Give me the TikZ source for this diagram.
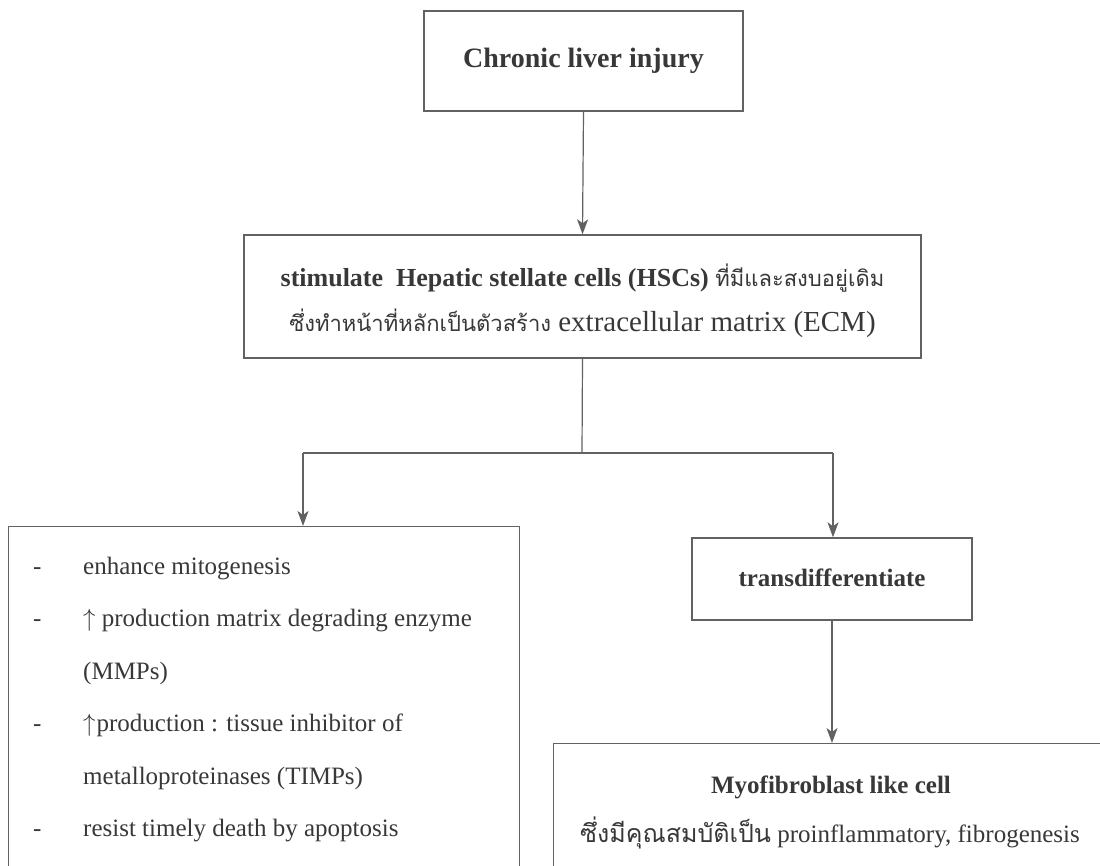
\documentclass[tikz,border=0pt]{standalone}
\usepackage{fontspec}
\setmainfont{Liberation Serif}
\newfontfamily\thai[Script=Thai]{Loma}
\usetikzlibrary{arrows.meta}
\definecolor{linec}{HTML}{626262}
\definecolor{textc}{HTML}{383838}
\newcommand{\upar}{$\uparrow$}
\begin{document}
\begin{tikzpicture}[x=1pt,y=-1pt,
  box/.style={draw=linec, line width=1.4pt, inner sep=0pt, text=textc},
  conn/.style={draw=linec, line width=1.2pt},
  arr/.style={conn, -{Stealth[length=15pt,width=11pt,inset=4pt]}},
  txt/.style={text=textc, inner sep=0pt},
  big/.style={font=\fontsize{28}{32}\selectfont\bfseries},
  mid/.style={font=\fontsize{25}{30}\selectfont},
]
\useasboundingbox (0,0) rectangle (1100,866);
\fill[white] (0,0) rectangle (1100,866);
\begin{scope}
\clip (0,0) rectangle (1100,866);
\node[box, big, minimum width=319pt, minimum height=100pt] (injury) at (583.5,61) {\raisebox{3pt}{Chronic liver injury}};
\node[box, minimum width=677pt, minimum height=123pt] (hsc) at (582.5,296.5) {};
\node[txt, font=\fontsize{26}{45}\selectfont] (hscl1) at (582.5,278)
  {\textbf{stimulate\ \ Hepatic stellate cells (HSCs)} {\thai\fontsize{22}{45}\selectfont ที่มีและสงบอยู่เดิม}};
\node[txt, font=\fontsize{29}{45}\selectfont] (hscl2) at (582.5,323)
  {{\thai\fontsize{22}{45}\selectfont ซึ่งทำหน้าที่หลักเป็นตัวสร้าง} extracellular matrix (ECM)};
\node[box, minimum width=511pt, minimum height=374pt, anchor=north west] (props) at (8,526) {};
\node[box, minimum width=280pt, minimum height=82pt, font=\fontsize{25}{30}\selectfont\bfseries] (trans) at (832,579) {\raisebox{2pt}{transdifferentiate}};
\node[box, minimum width=560pt, minimum height=140pt, anchor=north west] (myo) at (553,743) {};

\node[txt, mid, anchor=base west] (d1) at (33,574) {-};
\node[txt, mid, anchor=base west] (l1) at (83,574) {enhance mitogenesis};
\node[txt, mid, anchor=base west] (d2) at (33,626) {-};
\node[txt, mid, anchor=base west] (l2) at (83,626) {\upar\ production matrix degrading enzyme};
\node[txt, mid, anchor=base west] (l3) at (83,679) {(MMPs)};
\node[txt, mid, anchor=base west] (d4) at (33,731) {-};
\node[txt, mid, anchor=base west] (l4) at (83,731) {\upar\kern1pt production : tissue inhibitor of};
\node[txt, mid, anchor=base west] (l5) at (83,784) {metalloproteinases (TIMPs)};
\node[txt, mid, anchor=base west] (d6) at (33,836) {-};
\node[txt, mid, anchor=base west] (l6) at (83,836) {resist timely death by apoptosis};

\node[txt, font=\fontsize{25}{30}\selectfont\bfseries] (myotitle) at (831,787) {Myofibroblast like cell};
\node[txt, mid] (myotext) at (830,833) {{\thai\fontsize{25}{30}\selectfont ซึ่งมีคุณสมบัติเป็น} proinflammatory, fibrogenesis};

\coordinate (junction) at (582,453);
\coordinate (jl) at (303,453);
\coordinate (jr) at (833,453);
\draw[arr] (injury.south) -- (hsc.north);
\draw[conn] (hsc.south) -- (junction);
\draw[conn] (jl) -- (jr);
\draw[arr] (jl) -- (jl |- props.north);
\draw[arr] (jr) -- (jr |- trans.north);
\draw[arr] (trans.south) -- (trans.south |- myo.north);
\end{scope}
\end{tikzpicture}
\end{document}
